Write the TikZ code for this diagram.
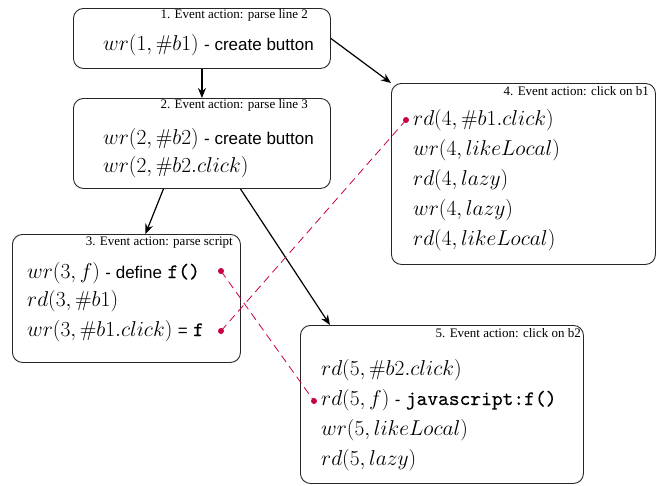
\documentclass[tikz,border=0pt]{standalone}
\usepackage{fix-cm}
\usepackage[no-math]{fontspec}
\setmainfont{Liberation Serif}
\newfontfamily\sanfam{Liberation Sans}
\newfontfamily\codefam{lmmono10-regular.otf}[FakeBold=0.3]
\usetikzlibrary{arrows.meta}
\definecolor{linkred}{RGB}{200,0,70}
\newcommand\mathsz{\fontsize{21.5}{25}\selectfont}
\newcommand\sanstxt[1]{{\sanfam\fontsize{17}{20}\selectfont #1}}
\newcommand\tttxt[1]{{\codefam\fontsize{20.5}{24}\selectfont #1}}
\begin{document}
\begin{tikzpicture}[x=1pt,y=-1pt,
  box/.style={draw=black!85,line width=0.9pt,rounded corners=10pt,anchor=north west,inner sep=0pt},
  hdr/.style={anchor=base east,inner sep=0pt,font=\fontsize{13}{15}\selectfont},
  ln/.style={anchor=base west,inner sep=0pt,font=\mathsz},
  arr/.style={draw=black,line width=1.2pt,-{Stealth[length=10pt,width=8pt]}},
  dot/.style={circle,fill=linkred,inner sep=0pt,minimum size=6pt},
  lnk/.style={draw=linkred,line width=0.8pt,dash pattern=on 8pt off 5pt}]
\useasboundingbox (0,0) rectangle (659,485);
% boxes
\node[box,minimum width=257pt,minimum height=60pt] (b1) at (73,8) {};
\node[box,minimum width=257pt,minimum height=90pt] (b2) at (73,98) {};
\node[box,minimum width=228pt,minimum height=128pt] (b3) at (12,234) {};
\node[box,minimum width=264pt,minimum height=181pt] (b4) at (391,83) {};
\node[box,minimum width=283pt,minimum height=158pt] (b5) at (300,325) {};
% headers
\node[hdr] (h1) at (308,18) {1. Event action: parse line 2};
\node[hdr] (h2) at (308,108) {2. Event action: parse line 3};
\node[hdr] (h3) at (233,245) {3. Event action: parse script};
\node[hdr] (h4) at (649,95) {4. Event action: click on b1};
\node[hdr] (h5) at (581,337) {5. Event action: click on b2};
% box 1
\node[ln] (l11) at (103,50) {$wr(1,\#b1)$ \sanstxt{- create button}};
% box 2
\node[ln] (l21) at (103,144) {$wr(2,\#b2)$ \sanstxt{- create button}};
\node[ln] (l22) at (103,172) {$wr(2,\#b2.click)$};
% box 3
\node[ln] (l31) at (27,278) {$wr(3,f)$ \sanstxt{- define} \tttxt{f()}};
\node[ln] (l32) at (27,306) {$rd(3,\#b1)$};
\node[ln] (l33) at (27,336) {$wr(3,\#b1.click)$ \sanstxt{=} \tttxt{f}};
% box 4
\node[ln] (l41) at (413,125) {$rd(4,\#b1.click)$};
\node[ln] (l42) at (413,155) {$wr(4,likeLocal)$};
\node[ln] (l43) at (413,185) {$rd(4,lazy)$};
\node[ln] (l44) at (413,215) {$wr(4,lazy)$};
\node[ln] (l45) at (413,245) {$rd(4,likeLocal)$};
% box 5
\node[ln] (l51) at (321,375) {$rd(5,\#b2.click)$};
\node[ln] (l52) at (321,405) {$rd(5,f)$ \sanstxt{-} \tttxt{javascript:f()}};
\node[ln] (l53) at (321,435) {$wr(5,likeLocal)$};
\node[ln] (l54) at (321,465) {$rd(5,lazy)$};
% arrows
\draw[arr] (b1.south) -- (b2.north);
\draw[arr] (b1.east) -- (b4.north west);
\draw[arr] ([xshift=-38.5pt]b2.south) -- ([xshift=19pt]b3.north);
\draw[arr] ([xshift=38.5pt]b2.south) -- ([xshift=30pt]b5.north west);
% link dots
\node[dot] (d1) at (221,271) {};
\node[dot] (d2) at (221,331) {};
\node[dot] (d3) at (406,120) {};
\node[dot] (d4) at (314,401) {};
\draw[lnk] (d2.center) -- (d3.center);
\draw[lnk] (d1.center) -- (d4.center);
\end{tikzpicture}
\end{document}
